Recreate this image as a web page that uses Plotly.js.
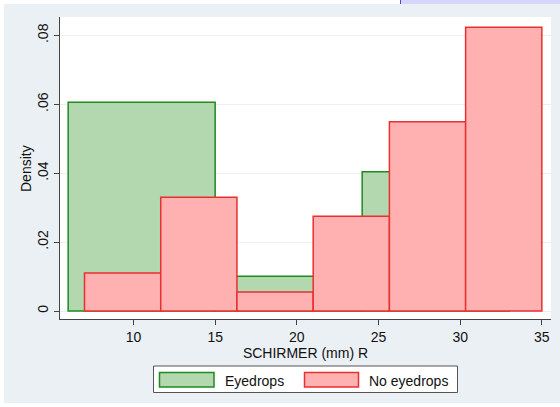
<!DOCTYPE html>
<html>
<head>
<meta charset="utf-8">
<script src="https://cdn.plot.ly/plotly-3.0.1.min.js"></script>
<style>
html,body{margin:0;padding:0;background:#ffffff;}
#chart{width:560px;height:407px;}
</style>
</head>
<body>
<div id="chart"></div>
<script>
// ---- data ----
const seriesNames = ['Eyedrops', 'No eyedrops'];
const eyedropsEdges = [6, 15, 24, 33];
const eyedropsDensity = [0.0606, 0.0101, 0.0404];
const noEyedropsEdges = [7, 11.667, 16.333, 21, 25.667, 30.333, 35];
const noEyedropsDensity = [0.0110, 0.0330, 0.0055, 0.0275, 0.0549, 0.0824];
const xTickVals = [10, 15, 20, 25, 30, 35];
const yTickVals = [0, 0.02, 0.04, 0.06, 0.08];
const yTickText = ['0', '.02', '.04', '.06', '.08'];
const xTitle = 'SCHIRMER (mm) R';
const yTitle = 'Density';

// ---- styling ----
const W = 560, H = 407;
const M = {l: 60, r: 9, t: 17, b: 88};
const PW = W - M.l - M.r, PH = H - M.t - M.b;
const px = x => (x - M.l) / PW;          // pixel -> paper x
const py = y => (H - M.b - y) / PH;      // pixel -> paper y
const greenFill = '#b3d8b0', greenLine = '#1f8a1f';
const redFill = '#ffb1b1', redLine = '#e8302f';
const bgGray = '#eaf0f3';
const FONT = 'Liberation Sans, Arial, Helvetica, sans-serif';

function histTrace(edges, dens, name, fill, line) {
  const centers = [], widths = [];
  for (let i = 0; i < dens.length; i++) {
    centers.push((edges[i] + edges[i + 1]) / 2);
    widths.push(edges[i + 1] - edges[i]);
  }
  return {
    type: 'bar', name: name, x: centers, y: dens, width: widths, base: 0,
    marker: {color: fill, line: {color: line, width: 1.5}},
    showlegend: false, hoverinfo: 'x+y'
  };
}

const traces = [
  histTrace(eyedropsEdges, eyedropsDensity, seriesNames[0], greenFill, greenLine),
  histTrace(noEyedropsEdges, noEyedropsDensity, seriesNames[1], redFill, redLine)
];

const shapes = [
  // white screenshot edges
  {type: 'rect', xref: 'paper', yref: 'paper', x0: px(0), x1: px(560), y0: py(0), y1: py(4), fillcolor: '#ffffff', line: {width: 0}, layer: 'above'},
  {type: 'rect', xref: 'paper', yref: 'paper', x0: px(0), x1: px(4), y0: py(0), y1: py(407), fillcolor: '#ffffff', line: {width: 0}, layer: 'above'},
  {type: 'rect', xref: 'paper', yref: 'paper', x0: px(0), x1: px(560), y0: py(403), y1: py(407), fillcolor: '#ffffff', line: {width: 0}, layer: 'above'},
  {type: 'rect', xref: 'paper', yref: 'paper', x0: px(400), x1: px(560), y0: py(0), y1: py(4), fillcolor: '#d6d6fa', line: {width: 0}, layer: 'above'},
  {type: 'line', xref: 'paper', yref: 'paper', x0: px(400.5), x1: px(400.5), y0: py(0), y1: py(4), line: {color: '#4a4af0', width: 1}, layer: 'above'},
  // legend box
  {type: 'rect', xref: 'paper', yref: 'paper', x0: px(153.5), x1: px(457.5), y0: py(366), y1: py(392.5), fillcolor: '#ffffff', line: {color: '#555555', width: 1}, layer: 'above'},
  {type: 'rect', xref: 'paper', yref: 'paper', x0: px(159.5), x1: px(214), y0: py(372.5), y1: py(387), fillcolor: greenFill, line: {color: greenLine, width: 1.5}, layer: 'above'},
  {type: 'rect', xref: 'paper', yref: 'paper', x0: px(304.5), x1: px(358.5), y0: py(372.5), y1: py(387), fillcolor: redFill, line: {color: redLine, width: 1.5}, layer: 'above'}
];

const annotations = [
  {xref: 'paper', yref: 'paper', x: px(222.5), y: py(380.5), xanchor: 'left', yanchor: 'middle', text: seriesNames[0], showarrow: false, font: {family: FONT, size: 14, color: '#111111'}},
  {xref: 'paper', yref: 'paper', x: px(366.5), y: py(380.5), xanchor: 'left', yanchor: 'middle', text: seriesNames[1], showarrow: false, font: {family: FONT, size: 14, color: '#111111'}},
  // y-axis title (placed as rotated text for exact position)
  {xref: 'paper', yref: 'paper', x: px(26), y: py(169), xanchor: 'center', yanchor: 'middle', textangle: -90, text: yTitle, showarrow: false, font: {family: FONT, size: 14, color: '#111111'}}
];

const layout = {
  width: W, height: H,
  margin: M,
  paper_bgcolor: bgGray,
  plot_bgcolor: '#ffffff',
  barmode: 'overlay',
  bargap: 0,
  showlegend: false,
  font: {family: FONT, size: 14, color: '#111111'},
  xaxis: {
    range: [5.5, 35.56], tickvals: xTickVals, ticks: 'outside', ticklen: 5, tickcolor: '#444444',
    showline: true, linecolor: '#444444', linewidth: 1, showgrid: false, zeroline: false,
    tickfont: {family: FONT, size: 14, color: '#111111'},
    title: {text: xTitle, font: {family: FONT, size: 14, color: '#111111'}, standoff: 0}
  },
  yaxis: {
    range: [-0.00232, 0.08534], tickvals: yTickVals, ticktext: yTickText, tickangle: -90,
    ticks: 'outside', ticklen: 5, tickcolor: '#444444',
    showline: true, linecolor: '#444444', linewidth: 1,
    showgrid: true, gridcolor: '#eaf0f3', gridwidth: 1, zeroline: false,
    tickfont: {family: FONT, size: 14, color: '#111111'}
  },
  shapes: shapes,
  annotations: annotations
};

Plotly.newPlot('chart', traces, layout, {displayModeBar: false, staticPlot: true});
</script>
</body>
</html>
